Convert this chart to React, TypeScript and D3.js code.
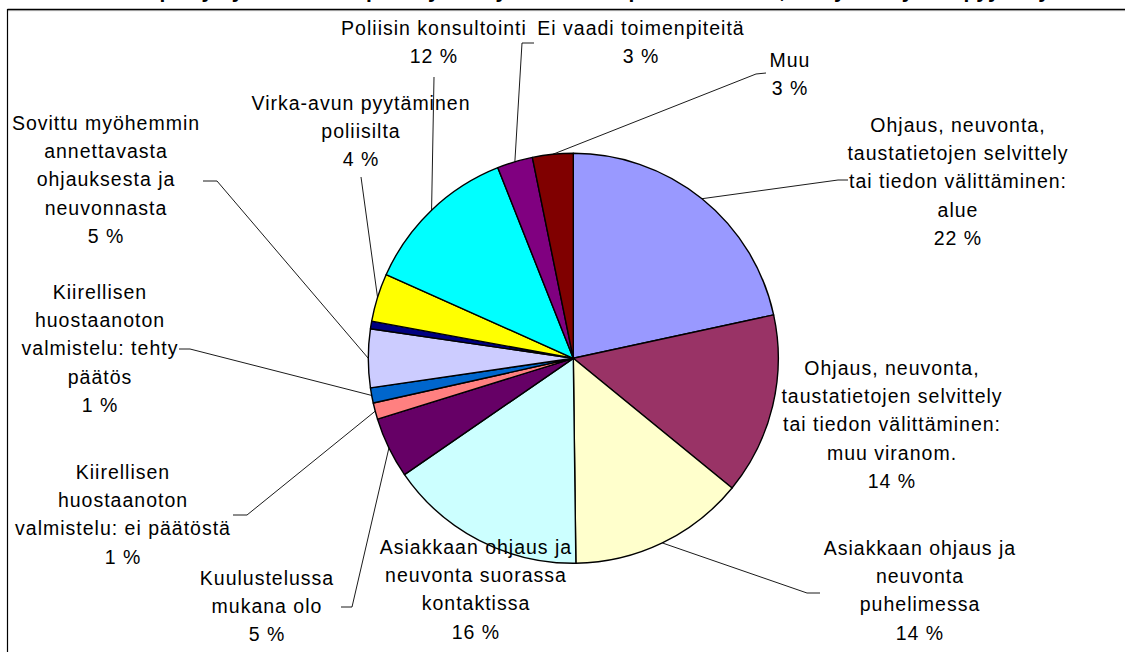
import React from "react";
import * as d3 from "d3";

// ---- data ----
const categories: string[] = [
  "Ohjaus, neuvonta,\ntaustatietojen selvittely\ntai tiedon välittäminen:\nalue",
  "Ohjaus, neuvonta,\ntaustatietojen selvittely\ntai tiedon välittäminen:\nmuu viranom.",
  "Asiakkaan ohjaus ja\nneuvonta\npuhelimessa",
  "Asiakkaan ohjaus ja\nneuvonta suorassa\nkontaktissa",
  "Kuulustelussa\nmukana olo",
  "Kiirellisen\nhuostaanoton\nvalmistelu: ei päätöstä",
  "Kiirellisen\nhuostaanoton\nvalmistelu: tehty\npäätös",
  "Sovittu myöhemmin\nannettavasta\nohjauksesta ja\nneuvonnasta",
  "",
  "Virka-avun pyytäminen\npoliisilta",
  "Poliisin konsultointi",
  "Ei vaadi toimenpiteitä",
  "Muu",
];
const values: number[] = [21.6, 14.3, 13.9, 15.6, 4.8, 1.3, 1.2, 4.6, 0.6, 3.8, 12.3, 2.8, 3.2];
const colors: string[] = [
  "#9999FF", "#993366", "#FFFFCC", "#CCFFFF", "#660066", "#FF8080", "#0066CC",
  "#CCCCFF", "#000080", "#FFFF00", "#00FFFF", "#800080", "#800000",
];
const title = "Sosiaalipäivystyksen toimenpiteet yhteistyötilanteissa poliisin kanssa, kun yhteistyö on pyydetty";

// ---- layout (label placement, not data) ----
type LabelLayout = { cx: number; cy: number; leader: [number, number][] | null } | null;
const labelLayout: LabelLayout[] = [
  { cx: 958, cy: 125, leader: [[848, 180], [838, 180]] },
  { cx: 892, cy: 368, leader: null },
  { cx: 920, cy: 548, leader: [[820, 593], [807, 593]] },
  { cx: 476, cy: 547, leader: null },
  { cx: 267, cy: 578, leader: [[341, 607], [352, 607]] },
  { cx: 123, cy: 472, leader: [[233, 515], [247, 515]] },
  { cx: 100, cy: 292, leader: [[179, 349], [190, 349]] },
  { cx: 106, cy: 123, leader: [[203, 181], [217, 181]] },
  null,
  { cx: 361, cy: 103, leader: [[361, 177]] },
  { cx: 434, cy: 28, leader: [[434, 77]] },
  { cx: 641, cy: 28, leader: [[534, 43], [522, 43]] },
  { cx: 790, cy: 60, leader: [[766, 73], [756, 74]] },
];

const W = 1125;
const H = 652;
const CX = 573.3;
const CY = 358.3;
const R = 205;
const LINE_H = 28.2;
const FONT = "'Liberation Sans', Arial, sans-serif";

export default function App() {
  const pie = d3
    .pie<number>()
    .sort(null)
    .value((d) => d)
    .startAngle(0)
    .endAngle(2 * Math.PI);
  const arcs = pie(values);
  const arc = d3.arc<d3.PieArcDatum<number>>().innerRadius(0).outerRadius(R);
  const edge = d3.arc<d3.PieArcDatum<number>>().innerRadius(R).outerRadius(R);
  const line = d3.line();

  return (
    <svg
      width={W}
      height={H}
      style={{ position: "absolute", left: 0, top: 0, background: "#fff" }}
      fontFamily={FONT}
    >
      <rect x={0} y={0} width={W} height={H} fill="#fff" />
      <text
        x={565}
        y={-2}
        textAnchor="middle"
        fontSize={21}
        fontWeight="bold"
        fill="#000"
      >
        {title}
      </text>
      {/* chart frame */}
      <line x1={7.5} y1={9.5} x2={W + 5} y2={9.5} stroke="#000" strokeWidth={1.3} />
      <line x1={7} y1={10.6} x2={W + 5} y2={10.6} stroke="#999" strokeWidth={1} />
      <line x1={7.5} y1={9} x2={7.5} y2={H + 5} stroke="#000" strokeWidth={1.2} />

      <g transform={`translate(${CX},${CY})`}>
        {arcs.map((a, i) => (
          <path
            key={i}
            d={arc(a) || ""}
            fill={colors[i]}
            stroke="#000"
            strokeWidth={1.4}
            strokeLinejoin="round"
          />
        ))}
      </g>

      {/* leader lines */}
      {arcs.map((a, i) => {
        const lay = labelLayout[i];
        if (!lay || !lay.leader) return null;
        const [ex, ey] = edge.centroid(a);
        const pts: [number, number][] = [...lay.leader, [CX + ex, CY + ey]];
        return (
          <path key={"l" + i} d={line(pts) || ""} fill="none" stroke="#000" strokeWidth={0.9} />
        );
      })}

      {/* labels */}
      {arcs.map((a, i) => {
        const lay = labelLayout[i];
        if (!lay || !categories[i]) return null;
        const lines = [...categories[i].split("\n"), `${Math.round(values[i])} %`];
        return (
          <text
            key={"t" + i}
            textAnchor="middle"
            fontSize={19.5}
            letterSpacing={1}
            fill="#000"
          >
            {lines.map((ln, j) => (
              <tspan key={j} x={lay.cx} y={lay.cy + j * LINE_H + 7}>
                {ln}
              </tspan>
            ))}
          </text>
        );
      })}
    </svg>
  );
}
